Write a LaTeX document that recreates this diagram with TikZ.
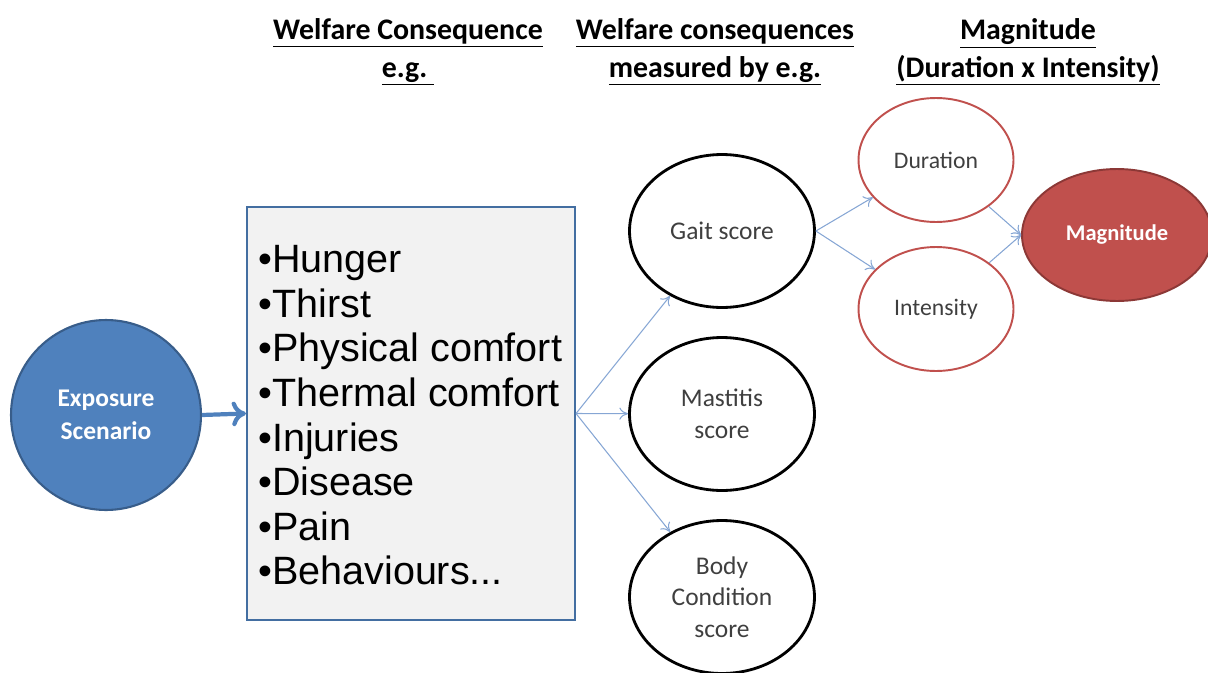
\documentclass[tikz,border=0pt]{standalone}
\usepackage{fontspec}
\setmainfont{Carlito}
\newfontfamily\listfont{Liberation Sans}
\usepackage{tikz}
\usetikzlibrary{shapes.geometric, arrows.meta}

\definecolor{expblue}{HTML}{4F81BD}
\definecolor{expdark}{HTML}{385D8A}
\definecolor{boxgray}{HTML}{F2F2F2}
\definecolor{magred}{HTML}{C0504D}
\definecolor{magdark}{HTML}{8C3836}
\definecolor{linkblue}{HTML}{86A6D4}
\definecolor{txtgray}{HTML}{3F3F3F}

\tikzset{
    header/.style={font=\bfseries\fontsize{17}{21.5}\selectfont, align=center},
    measure/.style={ellipse, draw=black, line width=1.6pt, minimum width=3.7cm,
        minimum height=3.06cm, inner sep=0pt, align=center, text=txtgray,
        font=\fontsize{14.5}{18}\selectfont},
    factor/.style={ellipse, draw=magred, line width=1.1pt, minimum width=3.1cm,
        minimum height=2.48cm, inner sep=0pt, text=txtgray, font=\fontsize{13.5}{16}\selectfont},
    link/.style={-{To[length=5pt, width=7pt]}, linkblue, line width=0.6pt}
}

\begin{document}
\begin{tikzpicture}[x=0.02cm, y=-0.02cm]
        \useasboundingbox (0, 0) rectangle (1208, 673);
        % headers
        \node[header] (h1) at (408, 52) {\underline{Welfare Consequence}\\\underline{e.g.\ }};
        \node[header] (h2) at (715, 52) {\underline{Welfare consequences}\\\underline{measured by e.g.}};
        \node[header] (h3) at (1028, 52) {\underline{Magnitude}\\\underline{(Duration x Intensity)}};
        % exposure and list
        \node[circle, fill=expblue, draw=expdark, line width=1.2pt, minimum size=3.8cm,
            text=white, align=center, font=\bfseries\fontsize{14.5}{18.7}\selectfont]
            (exp) at (106, 415) {Exposure\\Scenario};
        \node[draw=expblue!85!black, fill=boxgray, line width=1.2pt, minimum width=6.56cm,
            minimum height=8.26cm] (box) at (411, 413.5) {};
        \node[anchor=north west, align=left, font=\listfont\fontsize{22.5}{25.4}\selectfont,
            inner sep=0pt] (list) at (258, 245)
            {•Hunger\\•Thirst\\•Physical comfort\\•Thermal comfort\\•Injuries\\•Disease\\•Pain\\•Behaviours...};
        % measures
        \node[measure] (gait) at (722, 231) {Gait score};
        \node[measure] (mast) at (722, 414) {Mastitis\\score};
        \node[measure] (body) at (722, 597) {Body\\Condition\\score};
        % magnitude
        \node[factor] (dur) at (936, 160) {Duration};
        \node[factor] (int) at (936, 309) {Intensity};
        \node[ellipse, fill=magred, draw=magdark, line width=1.1pt, minimum width=3.8cm,
            minimum height=2.64cm, inner sep=0pt, text=white, font=\bfseries\fontsize{12.8}{15}\selectfont]
            (mag) at (1117, 235) {Magnitude};
        % connectors
        \draw [-{To[length=8pt, width=14pt]}, expblue, line width=2.4pt] (exp.east) -- (box.west);
        \draw [link] (box.east) -- (gait);
        \draw [link] (box.east) -- (mast);
        \draw [link] (box.east) -- (body);
        \draw [link] (gait.east) -- (dur);
        \draw [link] (gait.east) -- (int);
        \draw [link] (dur) -- (mag.west);
        \draw [link] (int) -- (mag.west);
    \end{tikzpicture}
\end{document}
